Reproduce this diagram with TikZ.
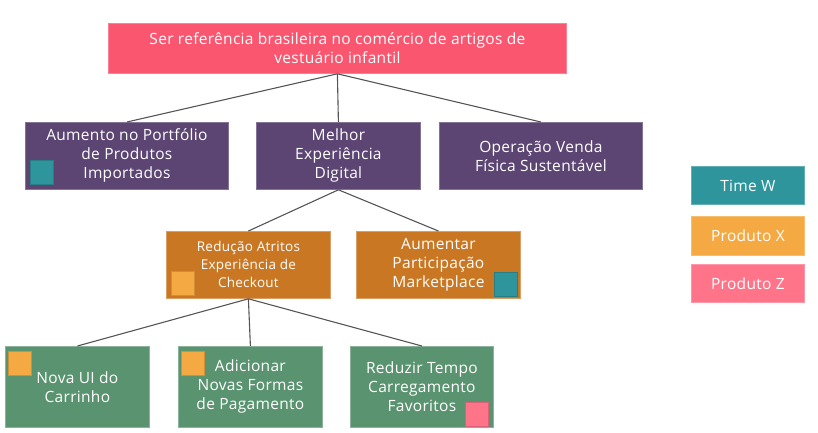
\documentclass[tikz,border=0pt]{standalone}
\usepackage{fontspec}
\setmainfont{Open Sans}[LetterSpace=2]
\definecolor{cRoot}{HTML}{FA5670}
\definecolor{cPurple}{HTML}{5C4572}
\definecolor{cOrange}{HTML}{C97723}
\definecolor{cGreen}{HTML}{5A9370}
\definecolor{cTeal}{HTML}{2E959C}
\definecolor{cYellow}{HTML}{F4A942}
\definecolor{cPink}{HTML}{FF7489}
\definecolor{cLine}{HTML}{555555}
\begin{document}
\begin{tikzpicture}[x=1pt,y=-1pt,
  box/.style={rectangle, anchor=north west, inner sep=0pt, align=center,
    text=white, font=\fontsize{15.5}{19}\selectfont, line width=0.8pt},
  tag/.style={rectangle, anchor=north west, inner sep=0pt, minimum width=23pt,
    minimum height=24pt, line width=0.6pt},
  link/.style={draw=cLine, line width=1.1pt}]
\useasboundingbox (0,0) rectangle (818,432);
% root
\node[box, fill=cRoot, draw=cRoot!75!white, minimum width=458pt, minimum height=50pt] (root) at (108,23)
  {Ser referência brasileira no comércio de artigos de\\vestuário infantil};
% level 1
\node[box, fill=cPurple, draw=cPurple!75!white, minimum width=203pt, minimum height=67pt] (A) at (25,122)
  {Aumento no Portfólio\\de Produtos\\Importados};
\node[box, fill=cPurple, draw=cPurple!75!white, minimum width=164pt, minimum height=67pt] (B) at (256,122)
  {Melhor\\Experiência\\Digital};
\node[box, fill=cPurple, draw=cPurple!75!white, minimum width=203pt, minimum height=67pt] (C) at (439,122)
  {Operação Venda\\Física Sustentável};
% level 2
\node[box, fill=cOrange, draw=cOrange!70!white, minimum width=164pt, minimum height=67pt,
  font=\fontsize{13.5}{18}\selectfont] (D) at (166,231)
  {Redução Atritos\\Experiência de\\Checkout};
\node[box, fill=cOrange, draw=cOrange!70!white, minimum width=164pt, minimum height=67pt] (E) at (356,231)
  {Aumentar\\Participação\\Marketplace};
% level 3
\node[box, fill=cGreen, draw=cGreen!70!white, minimum width=144pt, minimum height=81pt] (F) at (5,346)
  {Nova UI do\\Carrinho};
\node[box, fill=cGreen, draw=cGreen!70!white, minimum width=144pt, minimum height=81pt] (G) at (178,346)
  {Adicionar\\Novas Formas\\de Pagamento};
\node[box, fill=cGreen, draw=cGreen!70!white, minimum width=143pt, minimum height=81pt] (H) at (350,346)
  {Reduzir Tempo\\Carregamento\\Favoritos};
% tags
\node[tag, fill=cTeal, draw=cTeal!85!black] (tA) at (30,160) {};
\node[tag, fill=cYellow, draw=cYellow!85!black] (tD) at (171,271) {};
\node[tag, fill=cTeal, draw=cTeal!85!black] (tE) at (494,272) {};
\node[tag, fill=cYellow, draw=cYellow!85!black] (tF) at (8,351) {};
\node[tag, fill=cYellow, draw=cYellow!85!black] (tG) at (181,351) {};
\node[tag, fill=cPink, draw=cPink!85!black] (tH) at (465,402) {};
% legend
\node[box, fill=cTeal, draw=cTeal!75!white, minimum width=113pt, minimum height=38pt] (LW) at (691,166) {Time W};
\node[box, fill=cYellow, draw=cYellow!75!white, minimum width=113pt, minimum height=39pt] (LX) at (691,216) {Produto X};
\node[box, fill=cPink, draw=cPink!75!white, minimum width=113pt, minimum height=38pt] (LZ) at (691,264) {Produto Z};
% connectors
\draw[link] (root.south) -- (A.north);
\draw[link] (root.south) -- (B.north);
\draw[link] (root.south) -- (C.north);
\draw[link] (B.south) -- (D.north);
\draw[link] (B.south) -- (E.north);
\draw[link] (D.south) -- (F.north);
\draw[link] (D.south) -- (G.north);
\draw[link] (D.south) -- (H.north);
\end{tikzpicture}
\end{document}
